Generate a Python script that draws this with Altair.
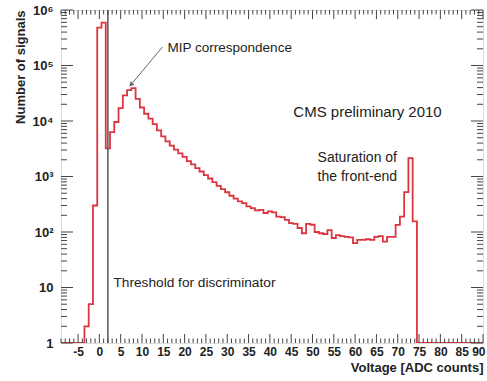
import altair as alt
import pandas as pd

# ---- data ----
bin_centers = list(range(-9, 91))
counts = [
    1, 1, 1, 1, 1, 1,            # -9 .. -4
    2, 5, 300,                   # -3 .. -1
    480000, 590000, 3200,        # 0 .. 2
    6300, 9600, 17000, 29000, 36000, 39000,   # 3 .. 8
    25000, 17500, 13500, 11000, 8800, 6800,   # 9 .. 14
    5300, 4300, 3600, 3050, 2600, 2250,       # 15 .. 20
    1900, 1650, 1420, 1230, 1060, 920,        # 21 .. 26
    790, 680, 590, 520, 450, 400,             # 27 .. 32
    355, 330, 290, 270, 245, 250,             # 33 .. 38
    220, 235, 225, 190, 185, 165,             # 39 .. 44
    145, 140, 118, 95, 140, 135,              # 45 .. 50
    100, 95, 92, 108, 78, 88,                 # 51 .. 56
    84, 82, 80, 63, 72, 72,                   # 57 .. 62
    74, 72, 82, 84, 67, 82,                   # 63 .. 68
    82, 134, 190, 525, 2150, 155,             # 69 .. 74
    1, 1, 1, 1, 1, 1, 1, 1, 1, 1, 1, 1, 1, 1, 1, 1,  # 75 .. 90
]
threshold = [2]

x_major = list(range(-5, 91, 5))
x_minor = [v for v in range(-9, 91) if v % 5 != 0]
y_major = [1, 10, 100, 1000, 10000, 100000, 1000000]
y_minor = [k * 10 ** d for d in range(6) for k in range(2, 10)]

ann_text = ["MIP correspondence", "CMS preliminary 2010", "Saturation of",
            "the front-end", "Threshold for discriminator"]
ann_x = [16.0, 45.5, 51.2, 51.2, 3.3]
ann_n = [2.07e5, 1.45e4, 2150, 1000, 12]
ann_size = [13.5, 15, 14, 14, 13.7]

arrow_x = [14.8]
arrow_n = [2.15e5]
arrow_x2 = [7.4]
arrow_n2 = [4.5e4]

W, H = 422, 333
FONT = "Liberation Sans"
TC = "#444444"

xs = alt.Scale(domain=[-9, 90], nice=False, zero=False)
ys = alt.Scale(type="log", domain=[1, 1e6], nice=False)

edges = [c - 0.5 for c in bin_centers] + [bin_centers[-1] + 0.5]
hist_df = pd.DataFrame({"x": edges, "n": counts + [counts[-1]]})

x_axis = alt.Axis(values=x_major, tickSize=0, domain=False, grid=False,
                  labelExpr="'' + datum.value", labelFont=FONT, labelFontSize=12,
                  labelFontWeight="bold", labelColor="#222", labelPadding=3,
                  labelFlush=True, labelFlushOffset=2, labelOverlap=False,
                  title="Voltage [ADC counts]", titleFont=FONT,
                  titleFontSize=13, titleFontWeight="bold", titleColor="#222",
                  titleX=W, titleY=24, titleAlign="right", titleBaseline="middle")

y_label_expr = ("datum.value == 1 ? '1' : datum.value == 10 ? '10' : "
                "datum.value == 100 ? '10²' : datum.value == 1000 ? '10³' : "
                "datum.value == 10000 ? '10⁴' : datum.value == 100000 ? '10⁵' : '10⁶'")
y_axis = alt.Axis(values=y_major, tickSize=0, domain=False, grid=False,
                  labelExpr=y_label_expr, labelFont=FONT, labelFontSize=13,
                  labelFontWeight="bold", labelColor="#222", labelPadding=8,
                  labelFlush=False, labelOverlap=False,
                  title="Number of signals", titleFont=FONT, titleFontSize=13,
                  titleFontWeight="bold", titleColor="#222", titleX=-41, titleY=0,
                  titleAngle=-90, titleAlign="right", titleBaseline="middle")


def X(field):
    return alt.X(field, type="quantitative", scale=xs, axis=x_axis)


def Y(field):
    return alt.Y(field, type="quantitative", scale=ys, axis=y_axis)


hist = alt.Chart(hist_df).mark_line(
    interpolate="step-after", color="#dc3540", strokeWidth=1.8, clip=True
).encode(x=X("x"), y=Y("n"))

thr = alt.Chart(pd.DataFrame({"x": threshold})).mark_rule(
    color="#555555", strokeWidth=1.5
).encode(x=X("x"))


def vticks(vals, y0, y1):
    return alt.Chart(pd.DataFrame({"x": vals})).mark_rule(color=TC, strokeWidth=1).encode(
        x=X("x"), y=alt.value(y0), y2=alt.value(y1))


def hticks(vals, x0, x1):
    return alt.Chart(pd.DataFrame({"n": vals})).mark_rule(color=TC, strokeWidth=1).encode(
        y=Y("n"), x=alt.value(x0), x2=alt.value(x1))


ticks = [
    vticks(x_major, H, H - 9), vticks(x_minor, H, H - 4.5),
    vticks(x_major, 0, 9), vticks(x_minor, 0, 4.5),
    hticks(y_major, 0, 12), hticks(y_minor, 0, 6),
    hticks(y_major, W, W - 12), hticks(y_minor, W, W - 6),
]

ann_df = pd.DataFrame({"x": ann_x, "n": ann_n, "t": ann_text, "s": ann_size})
ann = alt.Chart(ann_df).mark_text(
    align="left", baseline="middle", font=FONT, color="#222"
).encode(
    x=X("x"), y=Y("n"),
    text="t:N",
    size=alt.Size("s:Q", scale=None, legend=None),
)

arrow_df = pd.DataFrame({"x": arrow_x, "n": arrow_n, "x2": arrow_x2, "n2": arrow_n2})
arrow = alt.Chart(arrow_df).mark_rule(color="#666666", strokeWidth=1).encode(
    x=X("x"), y=Y("n"), x2="x2:Q", y2="n2:Q",
)
head = alt.Chart(arrow_df).mark_point(
    shape="triangle-up", filled=True, color="#666666", size=28, angle=226, opacity=1
).encode(x=X("x2"), y=Y("n2"))

chart = alt.layer(hist, thr, *ticks, arrow, head, ann).properties(
    width=W, height=H,
    padding={"left": 61, "top": 10, "right": 4, "bottom": 38},
    autosize=alt.AutoSizeParams(type="none"),
).configure_view(stroke="#333333", strokeWidth=1).configure(background="white")

chart.save("out.html", embed_options={"renderer": "svg", "actions": False})
